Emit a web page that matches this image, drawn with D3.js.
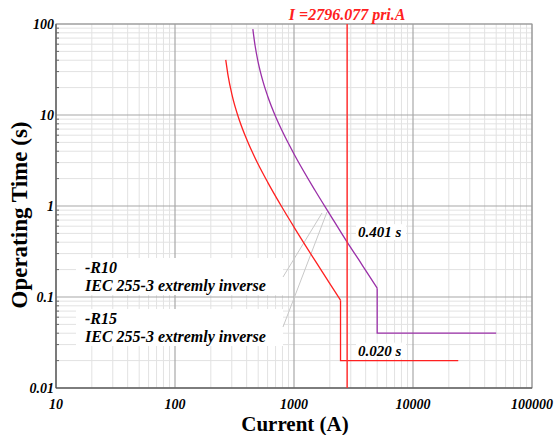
<!DOCTYPE html>
<html>
<head>
<meta charset="UTF-8">
<style>
  body { margin: 0; background: #fff; }
  svg { display: block; }
  text { font-family: "Liberation Serif", "Times New Roman", serif; font-weight: bold; }
</style>
</head>
<body>
<svg></svg>
<script src="https://d3js.org/d3.v7.min.js"></script>
<script>
let width = 558, height = 435;

// tick values
const xTicks = [10, 100, 1000, 10000, 100000];
const yTicks = [0.01, 0.1, 1, 10, 100];
const xTickLabels = ["10", "100", "1000", "10000", "100000"];
const yTickLabels = ["0.01", "0.1", "1", "10", "100"];

// lower (red) curve: inverse part + definite time tail
const redCurve = [[267, 40.4], [280, 26.6], [300, 17.1], [350, 8.52], [400, 5.40], [500, 2.87],
  [600, 1.83], [800, 0.95], [1000, 0.587], [1500, 0.252], [2000, 0.140], [2460, 0.0923]];
const redTail = [[2460, 0.0923], [2460, 0.020], [24000, 0.020]];

// upper (purple) curve
const purpleCurve = [[451, 87.9], [470, 58.8], [500, 37.9], [550, 23.1], [600, 16.2], [700, 9.64],
  [800, 6.58], [1000, 3.73], [1500, 1.49], [2000, 0.81], [2796, 0.401], [3500, 0.257],
  [4000, 0.196], [5000, 0.125]];
const purpleTail = [[5000, 0.125], [5000, 0.040], [50000, 0.040]];

const faultCurrent = 2796.077;
const faultLabel = "I =2796.077 pri.A";
const opLabels = [["0.401 s", 0.401], ["0.020 s", 0.020]];
const legendLines = [["-R10", "IEC 255-3 extremly inverse"], ["-R15", "IEC 255-3 extremly inverse"]];

let svg = d3.select("svg").attr("width", width).attr("height", height);

let pLeft = 56, pRight = 532, pTop = 24, pBottom = 388;

let x = d3.scaleLog().domain([10, 100000]).range([pLeft, pRight]);
let y = d3.scaleLog().domain([0.01, 100]).range([pBottom, pTop]);

// minor grid
let minorX = [], minorY = [];
for (let d = 10; d < 100000; d *= 10) for (let k = 2; k <= 9; k++) minorX.push(d * k);
for (let d = 0.01; d < 99; d *= 10) for (let k = 2; k <= 9; k++) minorY.push(d * k);

let grid = svg.append("g");
grid.selectAll(".mx").data(minorX).enter().append("line")
  .attr("x1", d => x(d)).attr("x2", d => x(d)).attr("y1", pTop).attr("y2", pBottom)
  .attr("stroke", "#e2e2e2").attr("stroke-width", 1);
grid.selectAll(".my").data(minorY).enter().append("line")
  .attr("y1", d => y(d)).attr("y2", d => y(d)).attr("x1", pLeft).attr("x2", pRight)
  .attr("stroke", "#e2e2e2").attr("stroke-width", 1);
grid.selectAll(".Mx").data(xTicks).enter().append("line")
  .attr("x1", d => x(d)).attr("x2", d => x(d)).attr("y1", pTop).attr("y2", pBottom)
  .attr("stroke", "#a8a8a8").attr("stroke-width", 1.2);
grid.selectAll(".My").data(yTicks).enter().append("line")
  .attr("y1", d => y(d)).attr("y2", d => y(d)).attr("x1", pLeft).attr("x2", pRight)
  .attr("stroke", "#a8a8a8").attr("stroke-width", 1.2);

// border
svg.append("rect").attr("x", pLeft).attr("y", pTop).attr("width", pRight - pLeft).attr("height", pBottom - pTop)
  .attr("fill", "none").attr("stroke", "#999");
svg.append("line").attr("x1", pLeft).attr("x2", pRight).attr("y1", pBottom).attr("y2", pBottom).attr("stroke", "#444");
svg.append("line").attr("x1", pLeft).attr("x2", pLeft).attr("y1", pTop).attr("y2", pBottom).attr("stroke", "#444");

// left minor ticks
svg.selectAll(".yt").data(minorY).enter().append("line")
  .attr("x1", pLeft).attr("x2", pLeft + 3).attr("y1", d => y(d)).attr("y2", d => y(d))
  .attr("stroke", "#666");

// tick labels
svg.selectAll(".xl").data(xTicks).enter().append("text")
  .attr("x", d => x(d)).attr("y", 409).attr("text-anchor", "middle")
  .style("font-style", "italic").style("font-size", "14px")
  .text((d, i) => xTickLabels[i]);
svg.selectAll(".yl").data(yTicks).enter().append("text")
  .attr("x", pLeft - 2).attr("y", d => y(d) + 5).attr("text-anchor", "end")
  .style("font-style", "italic").style("font-size", "14px")
  .text((d, i) => yTickLabels[i]);

// axis titles
svg.append("text").attr("x", 295).attr("y", 431).attr("text-anchor", "middle")
  .style("font-size", "21px").text("Current (A)");
svg.append("text").attr("transform", "translate(27,215) rotate(-90)")
  .attr("text-anchor", "middle").style("font-size", "23px").text("Operating Time (s)");

// legend boxes
legendLines.forEach((l, i) => {
  let by = 258 + i * 51;
  svg.append("rect").attr("x", 76).attr("y", by).attr("width", 207).attr("height", 37).attr("fill", "#fff");
  svg.append("text").attr("x", 85).attr("y", by + 15).style("font-style", "italic").style("font-size", "16px").text(l[0]);
  svg.append("text").attr("x", 85).attr("y", by + 33).style("font-style", "italic").style("font-size", "16px").text(l[1]);
});
// leader lines
svg.append("line").attr("x1", 283).attr("y1", 277).attr("x2", 322).attr("y2", 213).attr("stroke", "#c8c8c8");
svg.append("line").attr("x1", 283).attr("y1", 327).attr("x2", 327).attr("y2", 212).attr("stroke", "#c8c8c8");

// curves
let line = d3.line().x(d => x(d[0])).y(d => y(d[1]));
let smooth = d3.line().x(d => x(d[0])).y(d => y(d[1])).curve(d3.curveMonotoneX);

svg.append("path").attr("d", smooth(redCurve)).attr("fill", "none").attr("stroke", "#ff2020").attr("stroke-width", 1.3);
svg.append("path").attr("d", line(redTail)).attr("fill", "none").attr("stroke", "#ff2020").attr("stroke-width", 1.3);
svg.append("path").attr("d", smooth(purpleCurve)).attr("fill", "none").attr("stroke", "#9a2fa8").attr("stroke-width", 1.3);
svg.append("path").attr("d", line(purpleTail)).attr("fill", "none").attr("stroke", "#9a2fa8").attr("stroke-width", 1.3);

// operating time labels
opLabels.forEach(o => {
  let ty = y(o[1]) - 5;
  svg.append("rect").attr("x", 356).attr("y", ty - 13).attr("width", 50).attr("height", 16).attr("fill", "#fff");
  svg.append("text").attr("x", 358).attr("y", ty).style("font-style", "italic").style("font-size", "15px").text(o[0]);
});

// fault current line
svg.append("line").attr("x1", x(faultCurrent)).attr("x2", x(faultCurrent)).attr("y1", pTop).attr("y2", pBottom)
  .attr("stroke", "#ff3030").attr("stroke-width", 1.5);
svg.append("text").attr("x", x(faultCurrent)).attr("y", 20).attr("text-anchor", "middle")
  .style("font-style", "italic").style("font-size", "16px").attr("fill", "#ff2020").text(faultLabel);
</script>
</body>
</html>
